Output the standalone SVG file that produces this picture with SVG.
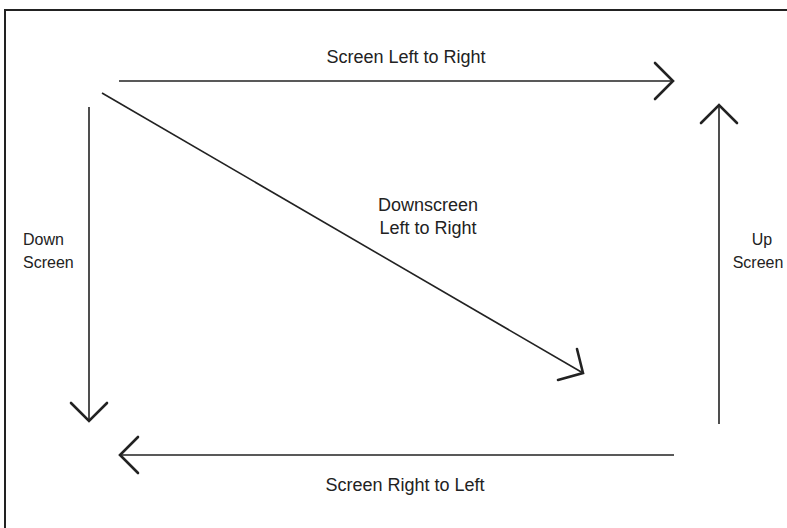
<svg xmlns="http://www.w3.org/2000/svg" width="787" height="528" viewBox="0 0 787 528">
<style>
.frame{fill:none;stroke:#222;stroke-width:2}
.ln{fill:none;stroke:#222;stroke-width:1.6}
.hd{fill:none;stroke:#222;stroke-width:2.6;stroke-linecap:round;stroke-linejoin:miter}
.t{font-family:"Liberation Sans",Arial,sans-serif;font-size:18px;fill:#222;text-anchor:middle}
.s{font-size:16px}
.l{text-anchor:start}
</style>
<rect width="787" height="528" fill="#fff"/>
<path class="frame" d="M5,528 V10 H787"/>
<g id="connectors">
<g id="left-to-right">
<line class="ln" x1="119" y1="81" x2="673" y2="81"/>
<polyline class="hd" points="655,63 673,81 655,99"/>
</g>
<g id="up-screen">
<line class="ln" x1="719" y1="424" x2="719" y2="105"/>
<polyline class="hd" points="701,123 719,105 737,123"/>
</g>
<g id="down-screen">
<line class="ln" x1="89" y1="107" x2="89" y2="421"/>
<polyline class="hd" points="71,403 89,421 107,403"/>
</g>
<g id="right-to-left">
<line class="ln" x1="674" y1="455" x2="120" y2="455"/>
<polyline class="hd" points="138,437 120,455 138,473"/>
</g>
<g id="downscreen">
<line class="ln" x1="102" y1="93" x2="583" y2="373"/>
<polyline class="hd" points="577,349 583,373 558,380"/>
</g>
</g>
<g id="labels">
<text class="t" x="406" y="63">Screen Left to Right</text>
<text class="t" x="428" y="211">Downscreen</text>
<text class="t" x="428" y="234">Left to Right</text>
<text class="t s l" x="23" y="245">Down</text>
<text class="t s l" x="23" y="268">Screen</text>
<text class="t s" x="762" y="245">Up</text>
<text class="t s" x="758" y="268">Screen</text>
<text class="t" x="405" y="491">Screen Right to Left</text>
</g>
</svg>
